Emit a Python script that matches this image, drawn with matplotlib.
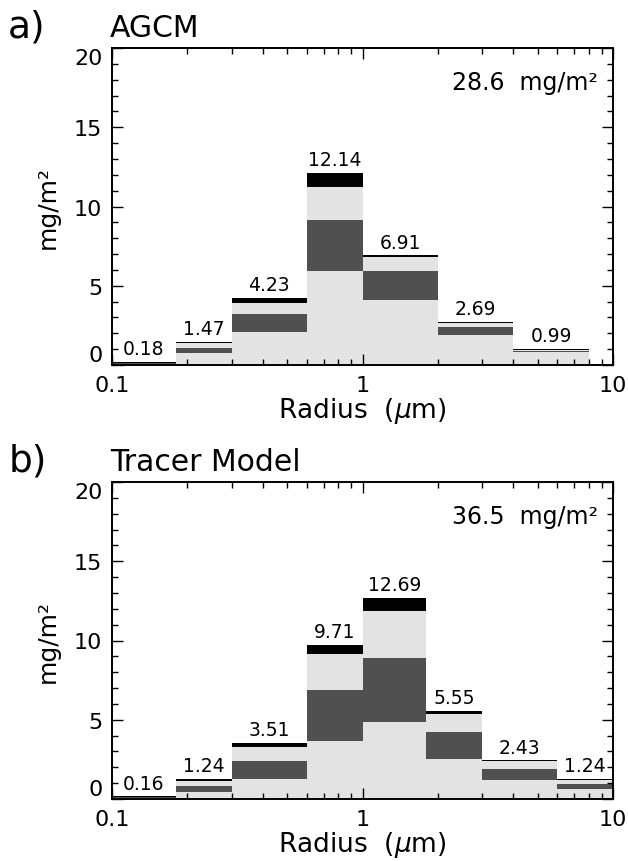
import numpy as np
import matplotlib
matplotlib.use("Agg")
import matplotlib.pyplot as plt
from matplotlib.ticker import FixedLocator, NullFormatter, LogLocator

plt.rcParams['font.family'] = ['DejaVu Sans']
plt.rcParams['mathtext.fontset'] = 'dejavusans'

# Size-bin edges (radius, micrometres)
edges_agcm = [0.1, 0.18, 0.3, 0.6, 1.0, 2.0, 4.0, 8.0]
edges_tracer = [0.1, 0.18, 0.3, 0.6, 1.0, 1.8, 3.0, 6.0, 10.0]

# Column totals per bin (mg/m^2)
total_agcm = [0.18, 1.47, 4.23, 12.14, 6.91, 2.69, 0.99]
total_tracer = [0.16, 1.24, 3.51, 9.71, 12.69, 5.55, 2.43, 1.24]

# Cumulative tops of the lower three stacked components in each bin
layer1_agcm = [0.08, 0.74, 2.06, 5.95, 4.08, 1.89, 0.80]
layer2_agcm = [0.12, 1.10, 3.20, 9.17, 5.95, 2.39, 0.90]
layer3_agcm = [0.15, 1.38, 3.89, 11.20, 6.80, 2.62, 0.96]

layer1_tracer = [0.07, 0.44, 1.26, 3.66, 4.86, 2.53, 1.20, 0.65]
layer2_tracer = [0.11, 0.82, 2.40, 6.88, 8.90, 4.24, 1.90, 0.95]
layer3_tracer = [0.14, 1.14, 3.30, 9.15, 11.86, 5.35, 2.37, 1.19]

column_agcm = 28.6
column_tracer = 36.5

LIGHT = '#e3e3e3'
DARK = '#505050'
TOP = '#000000'

fig = plt.figure(figsize=(6.28, 8.62), dpi=100)
W, H = 628, 862


def panel(rect, edges, totals, l1, l2, l3, letter, title, column):
    ax = fig.add_axes(rect)
    ax.set_xscale('log')
    edges = np.asarray(edges)
    left = edges[:-1]
    width = np.diff(edges)
    totals = np.asarray(totals)
    l1, l2, l3 = map(np.asarray, (l1, l2, l3))
    kw = dict(align='edge', linewidth=0, zorder=1)
    ax.bar(left, l1, width, color=LIGHT, **kw)
    ax.bar(left, l2 - l1, width, bottom=l1, color=DARK, **kw)
    ax.bar(left, l3 - l2, width, bottom=l2, color=LIGHT, **kw)
    ax.bar(left, totals - l3, width, bottom=l3, color=TOP, **kw)
    centers = np.sqrt(edges[:-1] * edges[1:])
    for c, t in zip(centers, totals):
        ax.text(c, t + 0.25, f'{t:.2f}', ha='center', va='bottom',
                fontsize=13.5, zorder=3)

    ax.set_xticks([0.1, 1, 10])
    ax.set_xticklabels(['0.1', '1', '10'])
    ax.xaxis.set_minor_locator(LogLocator(base=10, subs=np.arange(2, 10)))
    ax.xaxis.set_minor_formatter(NullFormatter())
    ax.set_yticks([0, 5, 10, 15, 20])
    ax.set_yticklabels(['0', '5', '10', '15', '20'])
    ax.yaxis.set_minor_locator(FixedLocator(np.arange(0, 21, 1)))
    ax.tick_params(which='both', direction='in', top=True, right=True,
                   width=1.0, labelsize=16)
    ax.tick_params(which='major', length=8, pad=7)
    ax.tick_params(which='minor', length=4)
    ylabels = ax.get_yticklabels()
    ylabels[0].set_verticalalignment('bottom')
    ylabels[-1].set_verticalalignment('top')
    for s in ax.spines.values():
        s.set_linewidth(1.4)
        s.set_zorder(4)

    ax.set_xlabel(r'Radius  ($\mu$m)', fontsize=19, labelpad=0)
    ax.set_ylabel('mg/m²', fontsize=18, labelpad=10)
    ax.text(0.97, 0.893, f'{column}  mg/m²', transform=ax.transAxes,
            ha='right', va='center', fontsize=17)
    fig.text(rect[0] - 0.003, rect[1] + rect[3] + 0.007, title, ha='left',
             va='bottom', fontsize=21.5)
    fig.text(0.013, rect[1] + rect[3] + 0.004, letter, ha='left',
             va='bottom', fontsize=27)

    ax.set_xlim(0.1, 10)
    ax.set_ylim(0, 20)
    ax.set_autoscale_on(False)
    return ax


ax_l, ax_w = 112 / W, (613 - 112) / W
ax_h = 317 / H
panel([ax_l, 1 - 366 / H, ax_w, ax_h], edges_agcm, total_agcm,
      layer1_agcm, layer2_agcm, layer3_agcm, 'a)', 'AGCM', column_agcm)
panel([ax_l, 1 - 800 / H, ax_w, ax_h], edges_tracer, total_tracer,
      layer1_tracer, layer2_tracer, layer3_tracer, 'b)', 'Tracer Model',
      column_tracer)

fig.savefig('out.png', dpi=100)
